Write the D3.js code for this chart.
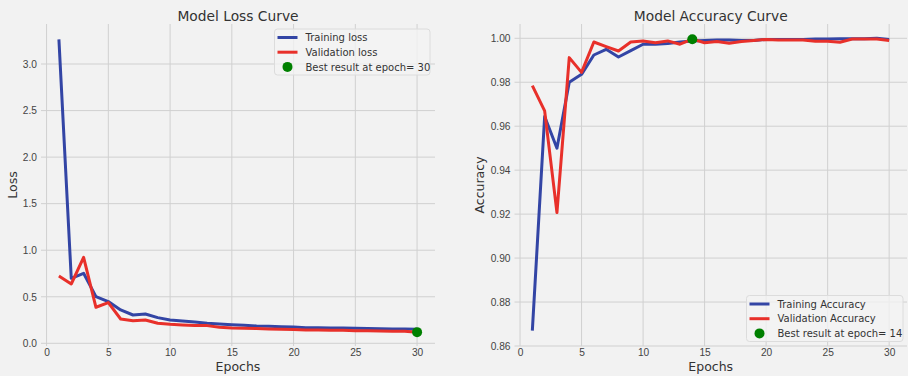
<!DOCTYPE html>
<html>
<head>
<meta charset="utf-8">
<script src="https://cdn.jsdelivr.net/npm/d3@7"></script>
<style>
  body { margin: 0; background: #f2f2f2; }
  svg { display: block; font-family: "DejaVu Sans", sans-serif; }
  .tick text { fill: #444; font-size: 10.2px; }
</style>
</head>
<body>
<div id="chart"></div>
<script>
// epochs 1..30
const epochs = d3.range(1, 31);

const trainLoss = [3.265, 0.698, 0.752, 0.501, 0.448, 0.358, 0.304, 0.315, 0.276, 0.251,
                   0.240, 0.229, 0.215, 0.208, 0.200, 0.193, 0.186, 0.183, 0.179, 0.175,
                   0.168, 0.168, 0.165, 0.165, 0.161, 0.158, 0.157, 0.154, 0.154, 0.150];
const valLoss = [0.723, 0.637, 0.924, 0.387, 0.437, 0.261, 0.243, 0.251, 0.215, 0.204,
                 0.197, 0.190, 0.190, 0.172, 0.165, 0.161, 0.158, 0.154, 0.150, 0.147,
                 0.143, 0.143, 0.140, 0.140, 0.136, 0.136, 0.132, 0.129, 0.129, 0.120];

const trainAcc = [0.8670, 0.9644, 0.9500, 0.9800, 0.9836, 0.9924, 0.9950, 0.9915, 0.9944, 0.9973,
                  0.9973, 0.9976, 0.9983, 0.9988, 0.9990, 0.9992, 0.9992, 0.9990, 0.9990, 0.9995,
                  0.9995, 0.9995, 0.9995, 0.9997, 0.9997, 0.9998, 0.9998, 0.9998, 1.0000, 0.9995];
const valAcc = [0.9785, 0.9670, 0.9207, 0.9912, 0.9845, 0.9983, 0.9962, 0.9942, 0.9983, 0.9988,
                0.9980, 0.9988, 0.9973, 0.9996, 0.9980, 0.9985, 0.9977, 0.9985, 0.9990, 0.9995,
                0.9992, 0.9992, 0.9992, 0.9986, 0.9986, 0.9982, 0.9997, 0.9997, 0.9997, 0.9990];

const bestLossEpoch = 30;
const bestAccEpoch = 14;

const epochTicks = [0, 5, 10, 15, 20, 25, 30];
const lossTicks = [0.0, 0.5, 1.0, 1.5, 2.0, 2.5, 3.0];
const accTicks = [0.86, 0.88, 0.90, 0.92, 0.94, 0.96, 0.98, 1.00];

const width = 908, height = 376;
const blue = "#3345a5", red = "#e8302a", green = "#008000", grid = "#d0d0d0";

const svg = d3.select("#chart").append("svg")
    .attr("width", width)
    .attr("height", height);

svg.append("rect").attr("width", width).attr("height", height).attr("fill", "#f2f2f2");

function drawPanel(opts) {
    const x = d3.scaleLinear().domain([-0.45, 31.45]).range([opts.left, opts.right]);
    const y = d3.scaleLinear().domain(opts.yDomain).range([346, 24]);
    const g = svg.append("g");

    // grid lines
    g.append("g").selectAll("line").data(epochTicks).join("line")
        .attr("x1", d => x(d)).attr("x2", d => x(d))
        .attr("y1", 24).attr("y2", 346)
        .attr("stroke", grid).attr("stroke-width", 1);
    g.append("g").selectAll("line").data(opts.yTicks).join("line")
        .attr("x1", opts.left).attr("x2", opts.right)
        .attr("y1", d => y(d)).attr("y2", d => y(d))
        .attr("stroke", grid).attr("stroke-width", 1);

    // axes (labels only, like the fivethirtyeight look)
    g.append("g")
        .attr("transform", "translate(0,346)")
        .call(d3.axisBottom(x).tickValues(epochTicks).tickSize(0).tickPadding(3).tickFormat(d3.format("d")))
        .call(a => a.select(".domain").remove());
    g.append("g")
        .attr("transform", `translate(${opts.left},0)`)
        .call(d3.axisLeft(y).tickValues(opts.yTicks).tickSize(0).tickPadding(4).tickFormat(d3.format(opts.fmt)))
        .call(a => a.select(".domain").remove());

    const line = d3.line().x((d, i) => x(epochs[i])).y(d => y(d));
    g.append("path").attr("d", line(opts.train))
        .attr("fill", "none").attr("stroke", blue).attr("stroke-width", 3).attr("stroke-linejoin", "round");
    g.append("path").attr("d", line(opts.val))
        .attr("fill", "none").attr("stroke", red).attr("stroke-width", 3).attr("stroke-linejoin", "round");
    g.append("circle")
        .attr("cx", x(opts.best)).attr("cy", y(opts.val[opts.best - 1]))
        .attr("r", 5).attr("fill", green);

    // title and labels
    const cx = (opts.left + opts.right) / 2;
    g.append("text").attr("x", cx).attr("y", 21).attr("text-anchor", "middle")
        .attr("font-size", 13.8).attr("fill", "#333").text(opts.title);
    g.append("text").attr("x", cx).attr("y", 371).attr("text-anchor", "middle")
        .attr("font-size", 12.5).attr("fill", "#333").text("Epochs");
    g.append("text").attr("transform", `translate(${opts.ylabelX},185) rotate(-90)`)
        .attr("text-anchor", "middle").attr("font-size", 12.5).attr("fill", "#333").text(opts.ylabel);

    // legend
    const L = opts.legend;
    const lg = g.append("g").attr("transform", `translate(${L.x},${L.y})`);
    lg.append("rect").attr("width", L.w).attr("height", 46).attr("rx", 3)
        .attr("fill", "#f2f2f2").attr("fill-opacity", 0.8).attr("stroke", "#dcdcdc");
    const items = [
        {label: opts.names[0], color: blue, type: "line"},
        {label: opts.names[1], color: red, type: "line"},
        {label: "Best result at epoch= " + opts.best, color: green, type: "dot"}
    ];
    items.forEach((it, i) => {
        const yy = 8.5 + i * 14.7;
        if (it.type === "line") {
            lg.append("line").attr("x1", 3).attr("x2", 23).attr("y1", yy).attr("y2", yy)
                .attr("stroke", it.color).attr("stroke-width", 3);
        } else {
            lg.append("circle").attr("cx", 13).attr("cy", yy).attr("r", 5).attr("fill", it.color);
        }
        lg.append("text").attr("x", 31).attr("y", yy + 3.7).attr("font-size", 10)
            .attr("fill", "#333").text(it.label);
    });
}

drawPanel({
    left: 41, right: 435, yDomain: [-0.029, 3.43], yTicks: lossTicks, fmt: ".1f",
    train: trainLoss, val: valLoss, best: bestLossEpoch,
    title: "Model Loss Curve", ylabel: "Loss", ylabelX: 17,
    names: ["Training loss", "Validation loss"],
    legend: {x: 274.5, y: 29, w: 155.5}
});

drawPanel({
    left: 514.5, right: 907, yDomain: [0.86, 1.0065], yTicks: accTicks, fmt: ".2f",
    train: trainAcc, val: valAcc, best: bestAccEpoch,
    title: "Model Accuracy Curve", ylabel: "Accuracy", ylabelX: 484,
    names: ["Training Accuracy", "Validation Accuracy"],
    legend: {x: 746.5, y: 295.5, w: 156.5}
});
</script>
</body>
</html>
